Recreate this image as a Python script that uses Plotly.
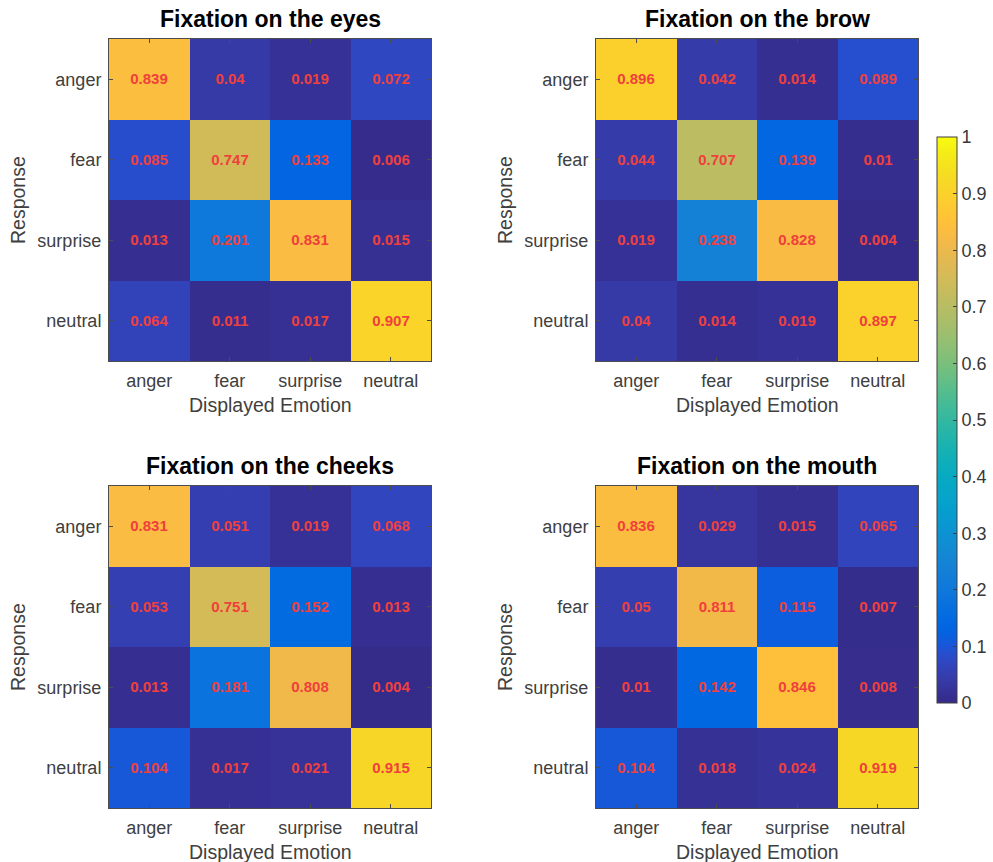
import plotly.graph_objects as go

categories = ["anger", "fear", "surprise", "neutral"]
titles = ["Fixation on the eyes", "Fixation on the brow",
          "Fixation on the cheeks", "Fixation on the mouth"]

# rows = Response, cols = Displayed Emotion
eyes = [[0.839, 0.04, 0.019, 0.072],
        [0.085, 0.747, 0.133, 0.006],
        [0.013, 0.201, 0.831, 0.015],
        [0.064, 0.011, 0.017, 0.907]]
brow = [[0.896, 0.042, 0.014, 0.089],
        [0.044, 0.707, 0.139, 0.01],
        [0.019, 0.238, 0.828, 0.004],
        [0.04, 0.014, 0.019, 0.897]]
cheeks = [[0.831, 0.051, 0.019, 0.068],
          [0.053, 0.751, 0.152, 0.013],
          [0.013, 0.181, 0.808, 0.004],
          [0.104, 0.017, 0.021, 0.915]]
mouth = [[0.836, 0.029, 0.015, 0.065],
         [0.05, 0.811, 0.115, 0.007],
         [0.01, 0.142, 0.846, 0.008],
         [0.104, 0.018, 0.024, 0.919]]
panels = [eyes, brow, cheeks, mouth]

colorbar_ticks = [0, 0.1, 0.2, 0.3, 0.4, 0.5, 0.6, 0.7, 0.8, 0.9, 1]

parula = [
    (0.2081, 0.1663, 0.5292), (0.2116, 0.1898, 0.5777), (0.2123, 0.2138, 0.6270),
    (0.2081, 0.2386, 0.6771), (0.1959, 0.2645, 0.7279), (0.1707, 0.2919, 0.7792),
    (0.1253, 0.3242, 0.8303), (0.0591, 0.3598, 0.8683), (0.0117, 0.3875, 0.8820),
    (0.0060, 0.4086, 0.8828), (0.0165, 0.4266, 0.8786), (0.0329, 0.4430, 0.8720),
    (0.0498, 0.4586, 0.8641), (0.0629, 0.4737, 0.8554), (0.0723, 0.4887, 0.8467),
    (0.0779, 0.5040, 0.8384), (0.0793, 0.5200, 0.8312), (0.0749, 0.5375, 0.8263),
    (0.0641, 0.5570, 0.8240), (0.0488, 0.5772, 0.8228), (0.0343, 0.5966, 0.8199),
    (0.0265, 0.6137, 0.8135), (0.0239, 0.6287, 0.8038), (0.0231, 0.6418, 0.7913),
    (0.0228, 0.6535, 0.7768), (0.0267, 0.6642, 0.7607), (0.0384, 0.6743, 0.7436),
    (0.0590, 0.6838, 0.7254), (0.0843, 0.6928, 0.7062), (0.1133, 0.7015, 0.6859),
    (0.1453, 0.7098, 0.6646), (0.1801, 0.7177, 0.6424), (0.2178, 0.7250, 0.6193),
    (0.2586, 0.7317, 0.5954), (0.3022, 0.7376, 0.5712), (0.3482, 0.7424, 0.5473),
    (0.3953, 0.7459, 0.5244), (0.4420, 0.7481, 0.5033), (0.4871, 0.7491, 0.4840),
    (0.5300, 0.7491, 0.4661), (0.5709, 0.7485, 0.4494), (0.6099, 0.7473, 0.4337),
    (0.6473, 0.7456, 0.4188), (0.6834, 0.7435, 0.4044), (0.7184, 0.7411, 0.3905),
    (0.7525, 0.7384, 0.3768), (0.7858, 0.7356, 0.3633), (0.8185, 0.7327, 0.3498),
    (0.8507, 0.7299, 0.3360), (0.8824, 0.7274, 0.3217), (0.9139, 0.7258, 0.3063),
    (0.9450, 0.7261, 0.2886), (0.9739, 0.7314, 0.2666), (0.9938, 0.7455, 0.2403),
    (0.9990, 0.7653, 0.2164), (0.9955, 0.7861, 0.1967), (0.9880, 0.8066, 0.1794),
    (0.9789, 0.8271, 0.1633), (0.9697, 0.8481, 0.1475), (0.9626, 0.8705, 0.1309),
    (0.9589, 0.8949, 0.1132), (0.9598, 0.9218, 0.0948), (0.9661, 0.9514, 0.0755),
    (0.9763, 0.9831, 0.0538)]
n = len(parula)
colorscale = [[i / (n - 1), "rgb(%d,%d,%d)" % tuple(round(c * 255) for c in rgb)]
              for i, rgb in enumerate(parula)]

W, H = 993, 862
FONT = "Liberation Sans, Arial, Helvetica, sans-serif"
# panel pixel boxes: (left, right, top, bottom)
boxes = [(109, 431, 39, 361), (596, 918, 39, 361),
         (109, 431, 486, 808), (596, 918, 486, 808)]

fig = go.Figure()
annotations = []
for k, (z, title, box) in enumerate(zip(panels, titles, boxes)):
    l, r, t, b = box
    sfx = "" if k == 0 else str(k + 1)
    fig.add_trace(go.Heatmap(
        z=z, x=categories, y=categories,
        text=[[("<b>%g</b>" % v) for v in row] for row in z],
        texttemplate="%{text}",
        textfont=dict(color="#f0403c", size=15, family=FONT),
        colorscale=colorscale, zmin=0, zmax=1,
        showscale=(k == 1),
        colorbar=dict(
            x=937 / W, xanchor="left", y=1 - 420 / H, yanchor="middle",
            len=566, lenmode="pixels", thickness=20, thicknessmode="pixels",
            tickvals=colorbar_ticks, ticktext=["%g" % v for v in colorbar_ticks],
            ticks="inside", ticklen=4, tickcolor="#404040",
            outlinecolor="#404040", outlinewidth=1,
            tickfont=dict(size=18, color="#383838", family=FONT),
            ypad=0, xpad=0,
        ),
        xaxis="x" + sfx, yaxis="y" + sfx, hoverongaps=False,
    ))
    axcommon = dict(
        showline=True, mirror="ticks", linecolor="#4d4d4d", linewidth=1,
        ticks="inside", ticklen=4, tickcolor="#4d4d4d",
        showgrid=False, zeroline=False,
        tickfont=dict(size=18, color="#404040", family=FONT),
        ticklabelstandoff=3,
    )
    fig.update_layout(**{
        "xaxis" + sfx: dict(domain=[l / W, r / W], anchor="y" + sfx, **axcommon),
        "yaxis" + sfx: dict(domain=[1 - b / H, 1 - t / H], anchor="x" + sfx,
                            autorange="reversed", **axcommon),
    })
    cx = (l + r) / 2
    cy = (t + b) / 2
    annotations.append(dict(text="<b>" + title + "</b>", x=cx / W, y=1 - (t - 20) / H,
                            xref="paper", yref="paper", showarrow=False,
                            xanchor="center", yanchor="middle",
                            font=dict(size=23, color="black", family=FONT)))
    annotations.append(dict(text="Displayed Emotion", x=cx / W, y=1 - (b + 44) / H,
                            xref="paper", yref="paper", showarrow=False,
                            xanchor="center", yanchor="middle",
                            font=dict(size=19.5, color="#404040", family=FONT)))
    annotations.append(dict(text="Response", x=(l - 91) / W, y=1 - cy / H,
                            xref="paper", yref="paper", showarrow=False, textangle=-90,
                            xanchor="center", yanchor="middle",
                            font=dict(size=19.5, color="#404040", family=FONT)))

fig.update_layout(
    width=W, height=H, margin=dict(l=0, r=0, t=0, b=0),
    paper_bgcolor="white", plot_bgcolor="white",
    annotations=annotations, showlegend=False,
    font=dict(family=FONT),
)
fig.write_html("out.html")
